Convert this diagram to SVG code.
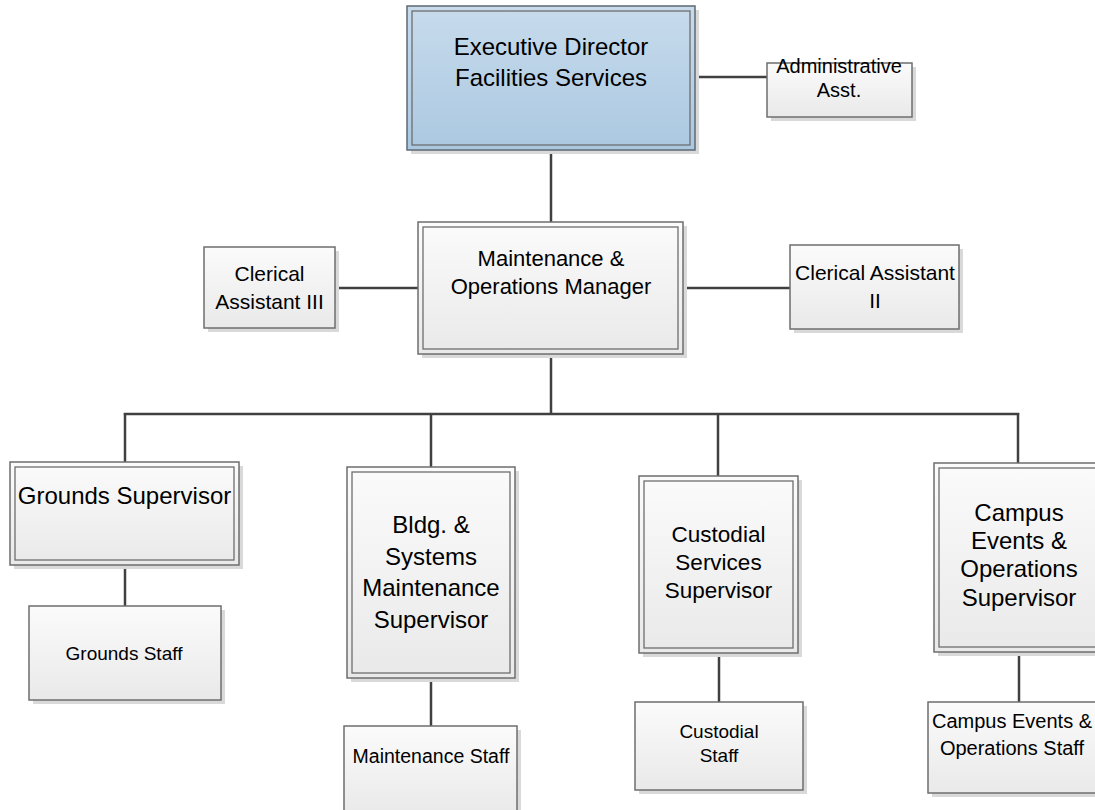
<svg xmlns="http://www.w3.org/2000/svg" width="1095" height="810" viewBox="0 0 1095 810">
  <defs>
    <linearGradient id="gGray" x1="0" y1="0" x2="0" y2="1">
      <stop offset="0" stop-color="#fbfbfb"/>
      <stop offset="1" stop-color="#e9e9e9"/>
    </linearGradient>
    <linearGradient id="gBlue" x1="0" y1="0" x2="0" y2="1">
      <stop offset="0" stop-color="#c7dbec"/>
      <stop offset="1" stop-color="#abc8e1"/>
    </linearGradient>
  </defs>
  <style>
    .shadow { fill: #d9d9d9; }
    .box { fill: url(#gGray); stroke: #6e6e6e; stroke-width: 1.5; }
    .blue { fill: url(#gBlue); stroke: #5f6a73; stroke-width: 1.5; }
    .inner { fill: none; stroke: #6e6e6e; stroke-width: 1.3; }
    .conn { stroke: #404040; stroke-width: 2.5; fill: none; }
    text { font-family: "Liberation Sans", Arial, sans-serif; fill: #000; text-anchor: middle; }
  </style>
  <rect width="1095" height="810" fill="#ffffff"/>

  <g id="connectors">
    <line class="conn" x1="551" y1="150" x2="551" y2="222"/>
    <line class="conn" x1="695" y1="77" x2="767" y2="77"/>
    <line class="conn" x1="335" y1="288" x2="418" y2="288"/>
    <line class="conn" x1="683" y1="288" x2="790" y2="288"/>
    <line class="conn" x1="551" y1="354" x2="551" y2="414"/>
    <line class="conn" x1="123.8" y1="414" x2="1019.2" y2="414"/>
    <line class="conn" x1="125" y1="413" x2="125" y2="462"/>
    <line class="conn" x1="431" y1="413" x2="431" y2="467"/>
    <line class="conn" x1="718" y1="413" x2="718" y2="476"/>
    <line class="conn" x1="1018" y1="413" x2="1018" y2="463"/>
    <line class="conn" x1="125" y1="565" x2="125" y2="606"/>
    <line class="conn" x1="431" y1="678" x2="431" y2="726"/>
    <line class="conn" x1="719" y1="653" x2="719" y2="702"/>
    <line class="conn" x1="1019" y1="652" x2="1019" y2="702"/>
  </g>

  <g id="exec-director">
    <rect class="shadow" x="411" y="10" width="288" height="144"/>
    <rect class="blue" x="407" y="6" width="288" height="144"/>
    <rect class="inner" x="412" y="11" width="278" height="134" stroke="#5f6a73"/>
    <text x="551" y="55" font-size="24">Executive Director</text>
    <text x="551" y="86" font-size="24">Facilities Services</text>
  </g>

  <g id="admin-asst">
    <rect class="shadow" x="771" y="67" width="145" height="54"/>
    <rect class="box" x="767" y="63" width="145" height="54"/>
    <text x="839" y="73" font-size="20">Administrative</text>
    <text x="839" y="97" font-size="20">Asst.</text>
  </g>

  <g id="mo-manager">
    <rect class="shadow" x="422" y="226" width="265" height="132"/>
    <rect class="box" x="418" y="222" width="265" height="132"/>
    <rect class="inner" x="423" y="227" width="255" height="122"/>
    <text x="551" y="266" font-size="22">Maintenance &amp;</text>
    <text x="551" y="294" font-size="22">Operations Manager</text>
  </g>

  <g id="clerical-iii">
    <rect class="shadow" x="208" y="251" width="131" height="81"/>
    <rect class="box" x="204" y="247" width="131" height="81"/>
    <text x="269.5" y="281" font-size="21">Clerical</text>
    <text x="269.5" y="309" font-size="21">Assistant III</text>
  </g>

  <g id="clerical-ii">
    <rect class="shadow" x="794" y="249" width="169" height="84"/>
    <rect class="box" x="790" y="245" width="169" height="84"/>
    <text x="875" y="280" font-size="21">Clerical Assistant</text>
    <text x="875" y="308" font-size="21">II</text>
  </g>

  <g id="grounds-supervisor">
    <rect class="shadow" x="14" y="466" width="229" height="103"/>
    <rect class="box" x="10" y="462" width="229" height="103"/>
    <rect class="inner" x="15" y="467" width="219" height="93"/>
    <text x="124.5" y="504" font-size="24">Grounds Supervisor</text>
  </g>

  <g id="bldg-supervisor">
    <rect class="shadow" x="351" y="471" width="168" height="211"/>
    <rect class="box" x="347" y="467" width="168" height="211"/>
    <rect class="inner" x="352" y="472" width="158" height="201"/>
    <text x="431" y="533" font-size="24">Bldg. &amp;</text>
    <text x="431" y="564.5" font-size="24">Systems</text>
    <text x="431" y="596" font-size="24">Maintenance</text>
    <text x="431" y="627.5" font-size="24">Supervisor</text>
  </g>

  <g id="custodial-supervisor">
    <rect class="shadow" x="643" y="480" width="159" height="177"/>
    <rect class="box" x="639" y="476" width="159" height="177"/>
    <rect class="inner" x="644" y="481" width="149" height="167"/>
    <text x="718.5" y="542" font-size="22.5">Custodial</text>
    <text x="718.5" y="570" font-size="22.5">Services</text>
    <text x="718.5" y="598" font-size="22.5">Supervisor</text>
  </g>

  <g id="campus-supervisor">
    <rect class="shadow" x="938" y="467" width="168" height="189"/>
    <rect class="box" x="934" y="463" width="168" height="189"/>
    <rect class="inner" x="939" y="468" width="158" height="179"/>
    <text x="1019" y="521" font-size="24">Campus</text>
    <text x="1019" y="549" font-size="24">Events &amp;</text>
    <text x="1019" y="577" font-size="24">Operations</text>
    <text x="1019" y="605.5" font-size="24">Supervisor</text>
  </g>

  <g id="grounds-staff">
    <rect class="shadow" x="33" y="610" width="192" height="94"/>
    <rect class="box" x="29" y="606" width="192" height="94"/>
    <text x="124" y="660" font-size="19">Grounds Staff</text>
  </g>

  <g id="maintenance-staff">
    <rect class="shadow" x="348" y="730" width="173" height="90"/>
    <rect class="box" x="344" y="726" width="173" height="90"/>
    <text x="431" y="763" font-size="19.5">Maintenance Staff</text>
  </g>

  <g id="custodial-staff">
    <rect class="shadow" x="639" y="706" width="168" height="88"/>
    <rect class="box" x="635" y="702" width="168" height="88"/>
    <text x="719" y="738" font-size="19">Custodial</text>
    <text x="719" y="762" font-size="19">Staff</text>
  </g>

  <g id="campus-staff">
    <rect class="shadow" x="932" y="706" width="168" height="91"/>
    <rect class="box" x="928" y="702" width="168" height="91"/>
    <text x="1012" y="728" font-size="20">Campus Events &amp;</text>
    <text x="1012" y="755" font-size="20">Operations Staff</text>
  </g>
</svg>
